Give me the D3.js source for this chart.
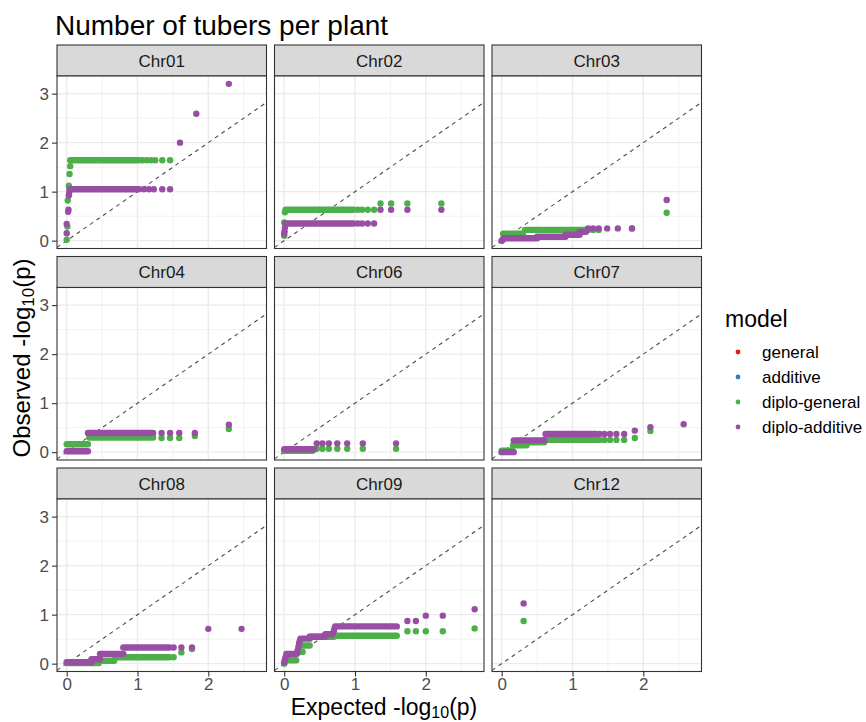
<!DOCTYPE html>
<html>
<head>
<meta charset="utf-8">
<script src="https://cdn.jsdelivr.net/npm/d3@7"></script>
<style>
  html, body { margin: 0; padding: 0; background: #fff; }
  svg text { font-family: "Liberation Sans", Arial, sans-serif; }
</style>
</head>
<body>
<svg id="chart" width="866" height="722"></svg>
<script>
// Facets (chromosomes), in panel order
const chromosomes = ["Chr01", "Chr02", "Chr03", "Chr04", "Chr06", "Chr07", "Chr08", "Chr09", "Chr12"];

// Models in legend order
const models = ["general", "additive", "diplo-general", "diplo-additive"];
const modelColors = ["#E41A1C", "#377EB8", "#4DAF4A", "#984EA3"];

// Axis ticks
const xTicks = [0, 1, 2];
const yTicks = [0, 1, 2, 3];

// QQ points: [chromosome, expected -log10(p), observed -log10(p)]
// Runs of tied observed values: [chromosome, expected from, expected to, observed]
const generalPoints = [];
const generalRuns = [];
const additivePoints = [];
const additiveRuns = [];

const diploGeneralPoints = [
  ["Chr01", 0.0, 0.02], ["Chr01", 0.01, 0.29], ["Chr01", 0.015, 0.82], ["Chr01", 0.03, 1.12],
  ["Chr01", 0.04, 1.36], ["Chr01", 0.05, 1.52], ["Chr01", 1.07, 1.64], ["Chr01", 1.13, 1.64],
  ["Chr01", 1.19, 1.64], ["Chr01", 1.25, 1.64], ["Chr01", 1.35, 1.64], ["Chr01", 1.46, 1.64],
  ["Chr02", 0.0, 0.10], ["Chr02", 0.0, 0.37], ["Chr02", 0.01, 0.58], ["Chr02", 1.04, 0.63],
  ["Chr02", 1.10, 0.63], ["Chr02", 1.18, 0.63], ["Chr02", 1.27, 0.63], ["Chr02", 1.36, 0.76],
  ["Chr02", 1.51, 0.76], ["Chr02", 1.74, 0.76], ["Chr02", 2.22, 0.76],
  ["Chr03", 0.0, 0.0], ["Chr03", 1.22, 0.22], ["Chr03", 1.29, 0.22], ["Chr03", 1.37, 0.22],
  ["Chr03", 1.84, 0.25], ["Chr03", 2.33, 0.57],
  ["Chr04", 1.34, 0.29], ["Chr04", 1.46, 0.29], ["Chr04", 1.59, 0.29], ["Chr04", 1.81, 0.33],
  ["Chr04", 2.29, 0.475],
  ["Chr06", 0.46, 0.07], ["Chr06", 0.54, 0.07], ["Chr06", 0.63, 0.07], ["Chr06", 0.75, 0.07],
  ["Chr06", 0.89, 0.07], ["Chr06", 1.11, 0.07], ["Chr06", 1.58, 0.07],
  ["Chr07", 1.38, 0.25], ["Chr07", 1.45, 0.25], ["Chr07", 1.53, 0.25], ["Chr07", 1.62, 0.25],
  ["Chr07", 1.73, 0.25], ["Chr07", 1.88, 0.29], ["Chr07", 2.10, 0.43],
  ["Chr08", 1.51, 0.13], ["Chr08", 1.62, 0.23], ["Chr08", 1.77, 0.30],
  ["Chr09", 0.0, 0.0], ["Chr09", 0.01, 0.03], ["Chr09", 1.74, 0.66], ["Chr09", 1.86, 0.66],
  ["Chr09", 2.0, 0.66], ["Chr09", 2.24, 0.66], ["Chr09", 2.69, 0.72],
  ["Chr12", 0.31, 0.87]
];
const diploGeneralRuns = [
  ["Chr01", 0.05, 1.02, 1.64],
  ["Chr02", 0.02, 0.98, 0.63],
  ["Chr03", 0.02, 0.30, 0.14], ["Chr03", 0.33, 1.18, 0.22],
  ["Chr04", 0.0, 0.30, 0.16], ["Chr04", 0.32, 1.22, 0.30],
  ["Chr06", 0.0, 0.40, 0.03],
  ["Chr07", 0.0, 0.15, 0.03], ["Chr07", 0.16, 0.35, 0.14], ["Chr07", 0.38, 0.60, 0.20],
  ["Chr07", 0.60, 1.33, 0.25],
  ["Chr08", 0.0, 0.45, 0.01], ["Chr08", 0.45, 0.67, 0.06], ["Chr08", 0.68, 1.45, 0.13],
  ["Chr09", 0.02, 0.17, 0.07], ["Chr09", 0.19, 0.26, 0.24], ["Chr09", 0.24, 0.36, 0.37],
  ["Chr09", 0.37, 0.70, 0.55], ["Chr09", 0.70, 1.59, 0.57]
];

const diploAdditivePoints = [
  ["Chr01", 0.0, 0.15], ["Chr01", 0.0, 0.34], ["Chr01", 0.02, 0.59], ["Chr01", 0.025, 0.63],
  ["Chr01", 0.03, 0.92], ["Chr01", 0.035, 0.98], ["Chr01", 1.09, 1.05], ["Chr01", 1.16, 1.05],
  ["Chr01", 1.23, 1.05], ["Chr01", 1.35, 1.05], ["Chr01", 1.46, 1.05], ["Chr01", 1.60, 2.0],
  ["Chr01", 1.83, 2.59], ["Chr01", 2.29, 3.20],
  ["Chr02", 0.0, 0.14], ["Chr02", 0.005, 0.19], ["Chr02", 0.01, 0.27], ["Chr02", 1.04, 0.35],
  ["Chr02", 1.10, 0.35], ["Chr02", 1.18, 0.35], ["Chr02", 1.27, 0.35], ["Chr02", 1.36, 0.63],
  ["Chr02", 1.51, 0.63], ["Chr02", 1.74, 0.63], ["Chr02", 2.22, 0.63],
  ["Chr03", 0.0, 0.0], ["Chr03", 0.02, 0.03], ["Chr03", 1.22, 0.25], ["Chr03", 1.29, 0.25],
  ["Chr03", 1.37, 0.25], ["Chr03", 1.49, 0.25], ["Chr03", 1.64, 0.25], ["Chr03", 1.84, 0.25],
  ["Chr03", 2.33, 0.83],
  ["Chr04", 1.34, 0.39], ["Chr04", 1.46, 0.39], ["Chr04", 1.59, 0.39], ["Chr04", 1.81, 0.39],
  ["Chr04", 2.29, 0.56],
  ["Chr06", 0.46, 0.18], ["Chr06", 0.54, 0.18], ["Chr06", 0.63, 0.18], ["Chr06", 0.75, 0.18],
  ["Chr06", 0.89, 0.18], ["Chr06", 1.11, 0.18], ["Chr06", 1.58, 0.18],
  ["Chr07", 1.38, 0.37], ["Chr07", 1.45, 0.37], ["Chr07", 1.53, 0.37], ["Chr07", 1.62, 0.37],
  ["Chr07", 1.73, 0.37], ["Chr07", 1.88, 0.44], ["Chr07", 2.10, 0.51], ["Chr07", 2.57, 0.57],
  ["Chr08", 1.51, 0.33], ["Chr08", 1.62, 0.33], ["Chr08", 1.77, 0.33], ["Chr08", 2.0, 0.71],
  ["Chr08", 2.47, 0.71],
  ["Chr09", 0.0, 0.03], ["Chr09", 0.01, 0.08], ["Chr09", 0.02, 0.13], ["Chr09", 0.19, 0.27],
  ["Chr09", 0.20, 0.34], ["Chr09", 0.21, 0.42], ["Chr09", 0.22, 0.47], ["Chr09", 0.70, 0.66],
  ["Chr09", 0.71, 0.72], ["Chr09", 1.74, 0.87], ["Chr09", 1.86, 0.87], ["Chr09", 2.0, 0.98],
  ["Chr09", 2.24, 0.98], ["Chr09", 2.69, 1.11],
  ["Chr12", 0.31, 1.23]
];
const diploAdditiveRuns = [
  ["Chr01", 0.04, 1.02, 1.05],
  ["Chr02", 0.02, 0.98, 0.35],
  ["Chr03", 0.03, 0.50, 0.05], ["Chr03", 0.50, 0.90, 0.08], ["Chr03", 0.90, 1.10, 0.12],
  ["Chr03", 1.10, 1.19, 0.18],
  ["Chr04", 0.0, 0.30, 0.02], ["Chr04", 0.30, 1.22, 0.39],
  ["Chr06", 0.0, 0.42, 0.06],
  ["Chr07", 0.0, 0.17, 0.0], ["Chr07", 0.17, 0.60, 0.24], ["Chr07", 0.62, 1.33, 0.37],
  ["Chr08", 0.0, 0.35, 0.03], ["Chr08", 0.35, 0.47, 0.09], ["Chr08", 0.47, 0.80, 0.20],
  ["Chr08", 0.80, 1.45, 0.33],
  ["Chr09", 0.03, 0.18, 0.20], ["Chr09", 0.23, 0.36, 0.51], ["Chr09", 0.36, 0.58, 0.55],
  ["Chr09", 0.58, 0.68, 0.60], ["Chr09", 0.72, 1.59, 0.76]
];

const seriesPoints = [generalPoints, additivePoints, diploGeneralPoints, diploAdditivePoints];
const seriesRuns = [generalRuns, additiveRuns, diploGeneralRuns, diploAdditiveRuns];

// ---- layout ----
const svg = d3.select("#chart");
const gridLeft = 57, gridTop = 45;
const panelW = 209.5, plotH = 172.5, stripH = 31, gapX = 8, gapY = 8;
const nCols = 3;
const ptR = 3.2;

const x = d3.scaleLinear().domain([-0.137, 2.822]).range([0, panelW]);
const y = d3.scaleLinear().domain([-0.16, 3.36]).range([plotH, 0]);
const color = d3.scaleOrdinal().domain(models).range(modelColors);

// Title
svg.append("text")
  .attr("x", 55).attr("y", 35)
  .attr("font-size", 28).attr("fill", "#000")
  .text("Number of tubers per plant");

const defs = svg.append("defs");
const minorX = [0.5, 1.5, 2.5];
const minorY = [0.5, 1.5, 2.5];

chromosomes.forEach((chr, i) => {
  const col = i % nCols, row = Math.floor(i / nCols);
  const px = gridLeft + col * (panelW + gapX);
  const py = gridTop + row * (stripH + plotH + gapY);
  const g = svg.append("g").attr("transform", `translate(${px},${py})`);

  // strip
  g.append("rect").attr("x", 0).attr("y", 0).attr("width", panelW).attr("height", stripH)
    .attr("fill", "#D9D9D9").attr("stroke", "#333333").attr("stroke-width", 1.1);
  g.append("text").attr("x", panelW / 2).attr("y", stripH / 2 + 6)
    .attr("text-anchor", "middle").attr("font-size", 17).attr("fill", "#1A1A1A").text(chr);

  const p = g.append("g").attr("transform", `translate(0,${stripH})`);
  const clipId = "clip" + i;
  defs.append("clipPath").attr("id", clipId)
    .append("rect").attr("width", panelW).attr("height", plotH);

  p.append("rect").attr("width", panelW).attr("height", plotH).attr("fill", "#fff");

  const grid = p.append("g").attr("clip-path", `url(#${clipId})`);
  grid.selectAll(".mnx").data(minorX).join("line")
    .attr("x1", d => x(d)).attr("x2", d => x(d)).attr("y1", 0).attr("y2", plotH)
    .attr("stroke", "#F2F2F2").attr("stroke-width", 1);
  grid.selectAll(".mny").data(minorY).join("line")
    .attr("y1", d => y(d)).attr("y2", d => y(d)).attr("x1", 0).attr("x2", panelW)
    .attr("stroke", "#F2F2F2").attr("stroke-width", 1);
  grid.selectAll(".mjx").data(xTicks).join("line")
    .attr("x1", d => x(d)).attr("x2", d => x(d)).attr("y1", 0).attr("y2", plotH)
    .attr("stroke", "#EBEBEB").attr("stroke-width", 1.4);
  grid.selectAll(".mjy").data(yTicks).join("line")
    .attr("y1", d => y(d)).attr("y2", d => y(d)).attr("x1", 0).attr("x2", panelW)
    .attr("stroke", "#EBEBEB").attr("stroke-width", 1.4);

  // identity reference line
  const dom = x.domain();
  grid.append("line")
    .attr("x1", x(dom[0])).attr("y1", y(dom[0]))
    .attr("x2", x(dom[1])).attr("y2", y(dom[1]))
    .attr("stroke", "#4D4D4D").attr("stroke-width", 1.1).attr("stroke-dasharray", "4,4");

  const marks = p.append("g").attr("clip-path", `url(#${clipId})`);
  const runLine = d3.line().x(d => x(d[0])).y(d => y(d[1]));
  models.forEach((m, k) => {
    const runs = seriesRuns[k].filter(r => r[0] === chr);
    marks.selectAll(null).data(runs).join("path")
      .attr("d", r => runLine([[r[1], r[3]], [r[2], r[3]]]))
      .attr("fill", "none").attr("stroke", color(m))
      .attr("stroke-width", ptR * 2).attr("stroke-linecap", "round");
    const pts = seriesPoints[k].filter(r => r[0] === chr);
    marks.selectAll(null).data(pts).join("circle")
      .attr("cx", d => x(d[1])).attr("cy", d => y(d[2])).attr("r", ptR)
      .attr("fill", color(m));
  });

  p.append("rect").attr("width", panelW).attr("height", plotH)
    .attr("fill", "none").attr("stroke", "#333333").attr("stroke-width", 1.1);

  // y axis on first column
  if (col === 0) {
    const ya = p.append("g").call(d3.axisLeft(y).tickValues(yTicks).tickSize(5).tickPadding(3).tickFormat(d3.format("d")));
    ya.select(".domain").remove();
    ya.selectAll("line").attr("stroke", "#333333").attr("stroke-width", 1.1);
    ya.selectAll("text").attr("font-size", 17).attr("fill", "#4D4D4D")
      .attr("font-family", "Liberation Sans, Arial, sans-serif");
  }
  // x axis on last row
  if (row === 2) {
    const xa = p.append("g").attr("transform", `translate(0,${plotH})`)
      .call(d3.axisBottom(x).tickValues(xTicks).tickSize(5).tickPadding(1.5).tickFormat(d3.format("d")));
    xa.select(".domain").remove();
    xa.selectAll("line").attr("stroke", "#333333").attr("stroke-width", 1.1);
    xa.selectAll("text").attr("font-size", 17).attr("fill", "#4D4D4D")
      .attr("font-family", "Liberation Sans, Arial, sans-serif");
  }
});

// Axis titles
const xt = svg.append("text").attr("x", 384).attr("y", 715)
  .attr("text-anchor", "middle").attr("font-size", 23).attr("fill", "#000");
xt.append("tspan").text("Expected -log");
xt.append("tspan").attr("font-size", 16).attr("dy", 3).text("10");
xt.append("tspan").attr("dy", -3).text("(p)");

const yt = svg.append("text").attr("transform", "translate(30,358) rotate(-90)")
  .attr("text-anchor", "middle").attr("font-size", 24).attr("fill", "#000");
yt.append("tspan").text("Observed -log");
yt.append("tspan").attr("font-size", 17).attr("dy", 4).text("10");
yt.append("tspan").attr("dy", -4).text("(p)");

// Legend
const lg = svg.append("g");
lg.append("text").attr("x", 725).attr("y", 327).attr("font-size", 23).attr("fill", "#000").text("model");
const item = lg.selectAll(".item").data(models).join("g")
  .attr("transform", (d, i) => `translate(0,${352 + i * 25})`);
item.append("circle").attr("cx", 738).attr("cy", 0).attr("r", 2.4).attr("fill", d => color(d));
item.append("text").attr("x", 762).attr("y", 6).attr("font-size", 17).attr("fill", "#000").text(d => d);
</script>
</body>
</html>
